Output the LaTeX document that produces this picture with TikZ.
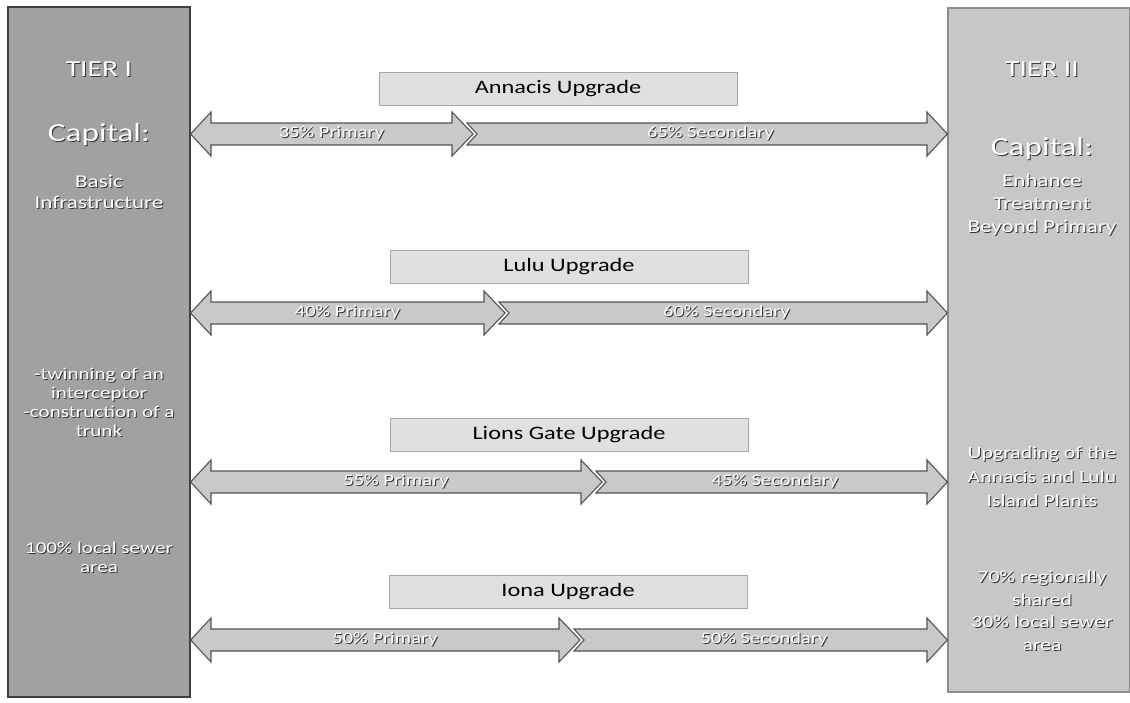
\documentclass[tikz,border=0pt]{standalone}
\usepackage{fontspec}
\setmainfont{Carlito}[FakeStretch=1.28]
\usetikzlibrary{calc, positioning}
\definecolor{tierdark}{rgb}{0.63,0.63,0.63}
\definecolor{tierlight}{rgb}{0.78,0.78,0.78}
\definecolor{barfill}{rgb}{0.79,0.79,0.79}
\definecolor{barline}{rgb}{0.33,0.33,0.33}
\definecolor{tagfill}{rgb}{0.88,0.88,0.88}
\newcommand{\halo}[1]{\makebox[0pt][l]{\textcolor{black!80}{\kern1pt\raisebox{-1pt}{#1}}}#1}
\tikzset{
  tierbox/.style={draw, line width=1.2pt, minimum width=182pt, inner sep=0pt},
  tiertext/.style={text=white, align=center, inner sep=0pt},
  bararrow/.style={draw=barline, fill=barfill, line width=1.1pt, line join=miter},
  tagbox/.style={draw=gray!70, fill=tagfill, minimum height=33pt, minimum width=358pt, inner sep=0pt, font=\fontsize{19}{22}\selectfont},
  barlabel/.style={text=white, inner sep=0pt, font=\fontsize{16}{18}\selectfont}
}

\begin{document}
\begin{tikzpicture}[x=1pt, y=-1pt]
    \useasboundingbox (0,0) rectangle (1130,702);

    \node[tierbox, fill=tierdark, draw=black!75, minimum height=690pt] (tier1) at (99,352) {};
    \node[tierbox, fill=tierlight, draw=black!45, minimum height=684pt] (tier2) at (1039,350) {};

    \node[tiertext, font=\fontsize{23}{26}\selectfont] (t1head) at (99,70) {\halo{TIER I}};
    \node[tiertext, font=\fontsize{26}{28}\selectfont] (t1cap) at (99,135) {\halo{Capital:}};
    \node[tiertext, font=\fontsize{18}{21}\selectfont] (t1what) at (99,192) {\halo{Basic}\\\halo{Infrastructure}};
    \node[tiertext, font=\fontsize{16.5}{19}\selectfont] (t1work) at (99,403) {\halo{-twinning of an}\\\halo{interceptor}\\\halo{-construction of a}\\\halo{trunk}};
    \node[tiertext, font=\fontsize{16.5}{19}\selectfont] (t1share) at (99,558) {\halo{100\% local sewer}\\\halo{area}};

    \node[tiertext, font=\fontsize{23}{26}\selectfont] (t2head) at (1042,70) {\halo{TIER II}};
    \node[tiertext, font=\fontsize{26}{28}\selectfont] (t2cap) at (1042,149) {\halo{Capital:}};
    \node[tiertext, font=\fontsize{18}{23}\selectfont] (t2what) at (1042,205) {\halo{Enhance}\\\halo{Treatment}\\\halo{Beyond Primary}};
    \node[tiertext, font=\fontsize{17}{24}\selectfont] (t2work) at (1042,477) {\halo{Upgrading of the}\\\halo{Annacis and Lulu}\\\halo{Island Plants}};
    \node[tiertext, font=\fontsize{17}{22.5}\selectfont] (t2share) at (1042,611) {\halo{70\% regionally}\\\halo{shared}\\\halo{30\% local sewer}\\\halo{area}};

    \foreach \y/\xs/\bx/\by/\plant/\p/\s [count=\i] in {134/473/558/88.5/Annacis/35/65, 313/505/569/266.5/Lulu/40/60, 482/602/569/435/Lions Gate/55/45, 640/580/568/591.5/Iona/50/50} {
        \node[tagbox] (tag\i) at (\bx,\by) {\plant{} Upgrade};
        \draw[bararrow] (tier1.east |- 0,\y) -- (211,\y-22) -- (211,\y-11) -- (\xs-21,\y-11) -- (\xs-21,\y-22) -- (\xs,\y) -- (\xs-21,\y+22) -- (\xs-21,\y+11) -- (211,\y+11) -- (211,\y+22) -- cycle;
        \draw[bararrow] (\xs-6,\y-11) -- (927,\y-11) -- (927,\y-22) -- (tier2.west |- 0,\y) -- (927,\y+22) -- (927,\y+11) -- (\xs-6,\y+11) -- (\xs+4,\y) -- cycle;
        \node[barlabel] (pri\i) at ({(190+\xs)/2},\y) {\halo{\p\% Primary}};
        \node[barlabel] (sec\i) at ({(\xs+948)/2},\y) {\halo{\s\% Secondary}};
    }
\end{tikzpicture}
\end{document}
